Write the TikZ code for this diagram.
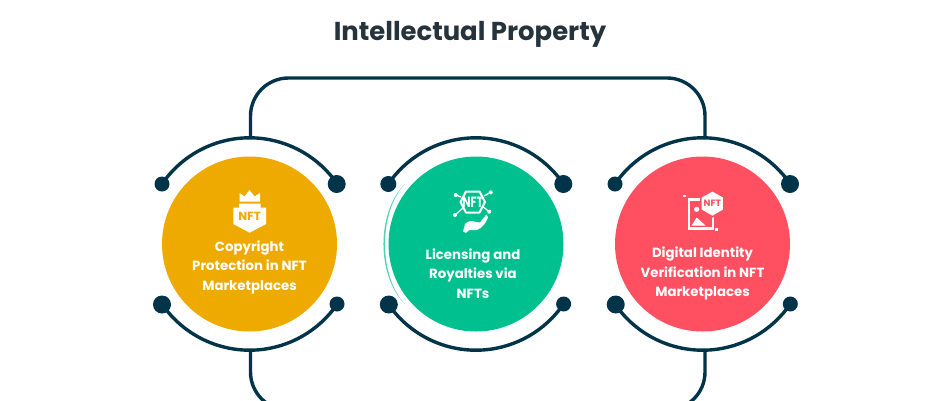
\documentclass[tikz,border=0pt]{standalone}
\usepackage{fontspec}
\setmainfont{Poppins}[BoldFont={* Bold}]
\definecolor{navy}{HTML}{023449}
\definecolor{titlecol}{HTML}{26333D}
\definecolor{cOrange}{HTML}{EFAA00}
\definecolor{cGreen}{HTML}{00C08F}
\definecolor{cRed}{HTML}{FF5061}
\tikzset{
  disc/.style={circle,minimum size=175pt,inner sep=0pt,fill=#1},
  label/.style={align=center,text=white,font=\fontsize{13.3}{19.5}\selectfont\bfseries,inner sep=0pt},
  bigdot/.style={circle,fill=navy,minimum size=18pt,inner sep=0pt},
  smalldot/.style={circle,fill=navy,minimum size=15pt,inner sep=0pt},
  ring/.style={draw=navy,line width=3.4pt},
  link/.style={draw=navy,line width=3.4pt,rounded corners=38pt},
  glyph/.style={font=\fontsize{#1}{#1}\selectfont\bfseries,inner sep=0pt}
}
\begin{document}
\begin{tikzpicture}[x=1pt,y=-1pt]
\useasboundingbox (0,0) rectangle (940,400);
\clip (0,0) rectangle (940,400);
\fill[white] (0,0) rectangle (940,400);
\node[font=\fontsize{25.9}{30}\selectfont\bfseries,text=titlecol,inner sep=0pt] (title) at (470,34.5) {Intellectual Property};

% connector frame
\coordinate (ta) at (250.5,137.5);
\coordinate (tc) at (705,137.5);
\coordinate (ba) at (250.5,350);
\coordinate (bc) at (705,350);
\coordinate (tl) at (250.5,78);
\coordinate (tr) at (705,78);
\coordinate (bl) at (250.5,410);
\coordinate (br) at (705,410);
\draw[link] (ta) -- (tl) -- (tr) -- (tc);
\draw[link] (ba) -- (bl) -- (br) -- (bc);

% crescent on the middle disc
\coordinate (cr1) at (405,184);
\coordinate (cr2) at (405,304);
\fill[cGreen!70] (cr1) .. controls (376.3,212) and (376.3,276) .. (cr2) .. controls (378.3,276) and (378.3,212) .. (cr1);

% discs
\node[disc=cOrange] (d1) at (249.5,244) {};
\node[disc=cGreen] (d2) at (476,244) {};
\node[disc=cRed] (d3) at (702.5,244) {};

% arcs and end dots
\foreach \n/\cx in {1/249.5,2/475.8,3/702.5}{
  \coordinate (atl\n) at (\cx-87.5,184);
  \coordinate (abl\n) at (\cx-87.5,304);
  \draw[ring] (atl\n) arc[start angle=214.4,end angle=325.6,radius=106.2];
  \draw[ring] (abl\n) arc[start angle=145.6,end angle=34.4,radius=106.2];
}
\node[smalldot] (p1a) at (162,184) {};
\node[bigdot]   (p1b) at (336.7,184) {};
\node[bigdot]   (p1c) at (162,304.5) {};
\node[smalldot] (p1d) at (337,304) {};
\node[bigdot,minimum size=16pt] (p2a) at (388.3,184) {};
\node[bigdot]   (p2b) at (563.3,184) {};
\node[bigdot]   (p2c) at (388.8,304.5) {};
\node[smalldot] (p2d) at (563.6,304) {};
\node[smalldot] (p3a) at (615,184) {};
\node[bigdot]   (p3b) at (790,184) {};
\node[bigdot]   (p3c) at (615.7,304.5) {};
\node[smalldot] (p3d) at (790.3,304) {};

% labels
\node[label] (t1) at (249.5,267) {Copyright\\Protection in NFT\\Marketplaces};
\node[label] (t2) at (473,273.5) {Licensing and\\Royalties via\\NFTs};
\node[label] (t3) at (702.5,273.5) {Digital Identity\\Verification in NFT\\Marketplaces};

% icon 1: crowned shield
\fill[white] (239.5,193) -- (244.5,196.5) -- (249.5,190) -- (254.5,196.5) -- (260,193) -- (260,201.5) -- (239.5,201.5) -- cycle;
\fill[white] (233.3,207.5) -- (239,207.5) -- (239,203.5) -- (260.5,203.5) -- (260.5,207.5) -- (266,207.5) -- (266,224) -- (249.6,232.7) -- (233.3,224) -- cycle;
\node[glyph=11.8,text=cOrange] (i1) at (249.6,216) {NFT};

% icon 2: NFT hexagon over a hand
\draw[white,line width=1.3pt] (461,197) -- (456,195) (484,196) -- (490.7,192.3) (463,208) -- (455,215) (482,206) -- (489.3,211.7);
\foreach \p in {(455.7,195),(490.7,192.3),(455,215),(489.3,211.7)} \fill[white] \p circle (2pt);
\draw[white,line width=2pt,fill=cGreen,line join=round] (460.5,202) -- (466,191.5) -- (479.5,191.5) -- (485,202) -- (479.5,212.5) -- (466,212.5) -- cycle;
\node[glyph=11,text=white,yscale=1.35] (i2) at (472.8,202) {NFT};
\fill[white] (463,231.5) -- (465,224) .. controls (468,220.5) and (472,220.5) .. (476,222) -- (480,222.5) .. controls (482,220) and (484,217) .. (486.5,214.5) -- (488,217.5) .. controls (486,223) and (482,228) .. (477,230) -- (469.5,230) -- (466,232.8) -- cycle;

% icon 3: framed picture with NFT tag
\draw[white,line width=2.4pt] (688.8,199.5) rectangle (713,228.5);
\fill[white] (683,194.7) rectangle (685.7,197.4);
\fill[white] (715.3,228) rectangle (718,230.7);
\fill[white] (696.7,209.3) circle (2.6pt);
\fill[white] (691.7,225.5) -- (696.7,217.5) -- (700,220.5) -- (705.5,225.5) -- cycle;
\fill[white,draw=cRed,line width=1.6pt] (712.4,190.5) -- (724,197) -- (724,210) -- (712.4,216.8) -- (700.8,210) -- (700.8,197) -- cycle;
\node[glyph=9.2,text=cRed] (i3) at (712.4,203.5) {NFT};
\end{tikzpicture}
\end{document}
